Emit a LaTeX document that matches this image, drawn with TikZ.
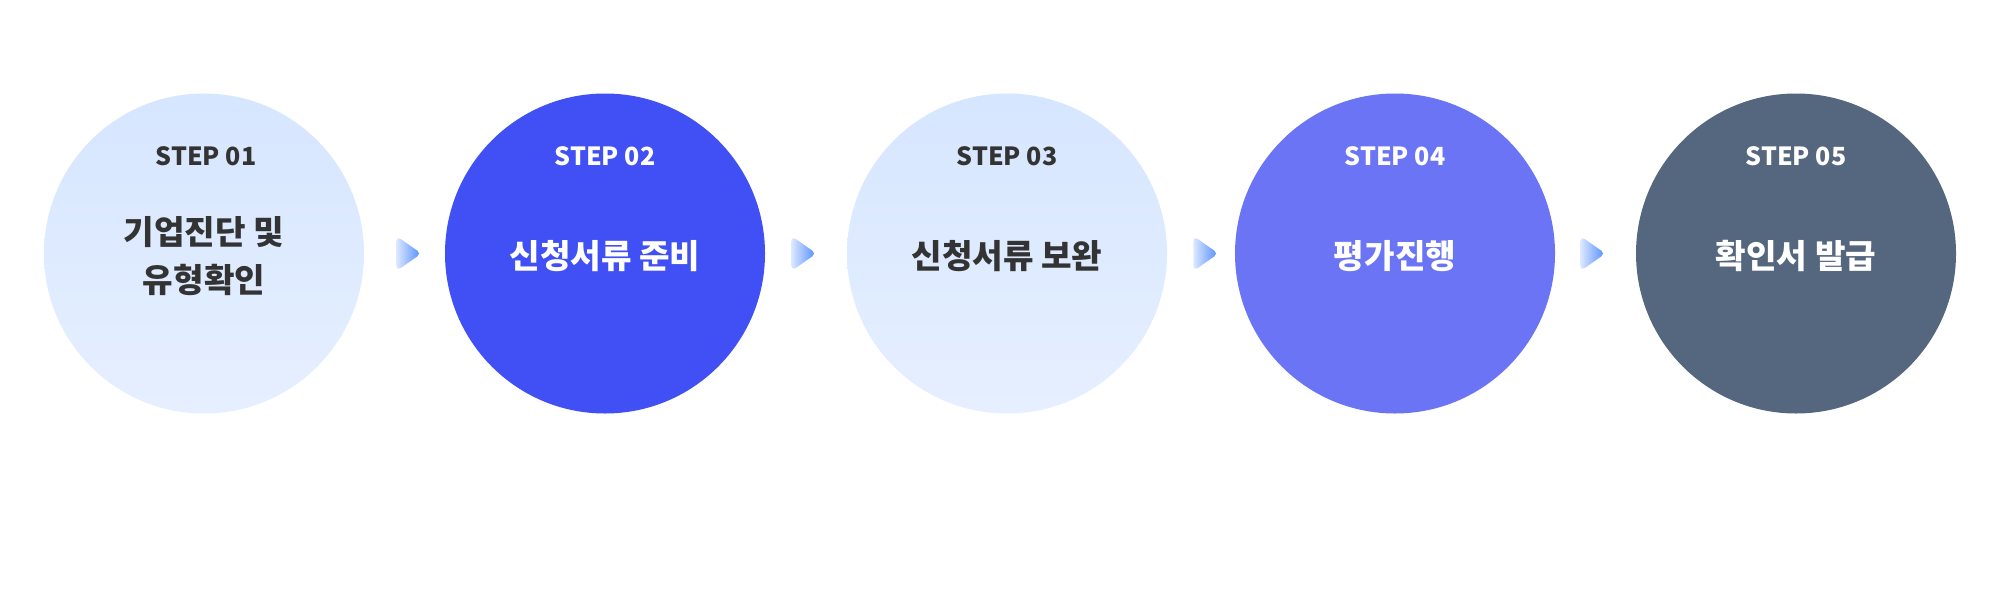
\documentclass[tikz,border=0pt]{standalone}
\usepackage{fontspec}
\setmainfont{Noto Sans CJK KR}
\usetikzlibrary{calc}
\definecolor{txtdark}{HTML}{333333}
\definecolor{lightA}{RGB}{214,230,255}
\definecolor{lightB}{RGB}{230,239,255}
\definecolor{blueA}{HTML}{4150F5}
\definecolor{blueB}{HTML}{6A74F5}
\definecolor{slateC}{HTML}{55677F}
\definecolor{arrL}{RGB}{220,232,255}
\definecolor{arrR}{RGB}{80,140,255}
\tikzset{
  stepcircle/.style={circle, minimum size=160pt, inner sep=0pt, draw=none},
  lightcircle/.style={stepcircle, top color=lightA, bottom color=lightB},
  steplabel/.style={font=\fontsize{12.5}{14}\selectfont\bfseries, inner sep=0pt},
  maintext/.style={font=\fontsize{16.6}{24}\selectfont\bfseries, inner sep=0pt, align=center},
  arrowtri/.style={left color=arrL, right color=arrR, rounded corners=2.5pt, draw=none}
}
\begin{document}
\begin{tikzpicture}[x=0.5pt,y=-0.5pt]
\useasboundingbox (0,0) rectangle (2000,600);
\fill[white] (0,0) rectangle (2000,600);
% circles
\node[lightcircle] (s1) at (204,253.5) {};
\node[stepcircle, fill=blueA] (s2) at (605,253.5) {};
\node[lightcircle] (s3) at (1007,253.5) {};
\node[stepcircle, fill=blueB] (s4) at (1395,253.5) {};
\node[stepcircle, fill=slateC] (s5) at (1796,253.5) {};
% labels
\node[steplabel, text=txtdark] (l1) at (206,156) {STEP 01};
\node[steplabel, text=white] (l2) at (605,156) {STEP 02};
\node[steplabel, text=txtdark] (l3) at (1007,156) {STEP 03};
\node[steplabel, text=white] (l4) at (1395,156) {STEP 04};
\node[steplabel, text=white] (l5) at (1796,156) {STEP 05};
% main texts
\node[maintext, text=txtdark] (t1) at (204,256) {기업진단 및\\유형확인};
\node[maintext, text=white] (t2) at (605,256) {신청서류 준비};
\node[maintext, text=txtdark] (t3) at (1007,256) {신청서류 보완};
\node[maintext, text=white] (t4) at (1395,256) {평가진행};
\node[maintext, text=white] (t5) at (1796,256) {확인서 발급};
% arrows
\shade[arrowtri] ($(s1.east)+(32,-17.5)$) -- ++(25,17.5) -- ++(-25,17.5) -- cycle;
\shade[arrowtri] ($(s2.east)+(26,-17.5)$) -- ++(25,17.5) -- ++(-25,17.5) -- cycle;
\shade[arrowtri] ($(s3.east)+(26,-17.5)$) -- ++(25,17.5) -- ++(-25,17.5) -- cycle;
\shade[arrowtri] ($(s4.east)+(25,-17.5)$) -- ++(25,17.5) -- ++(-25,17.5) -- cycle;
\end{tikzpicture}
\end{document}
